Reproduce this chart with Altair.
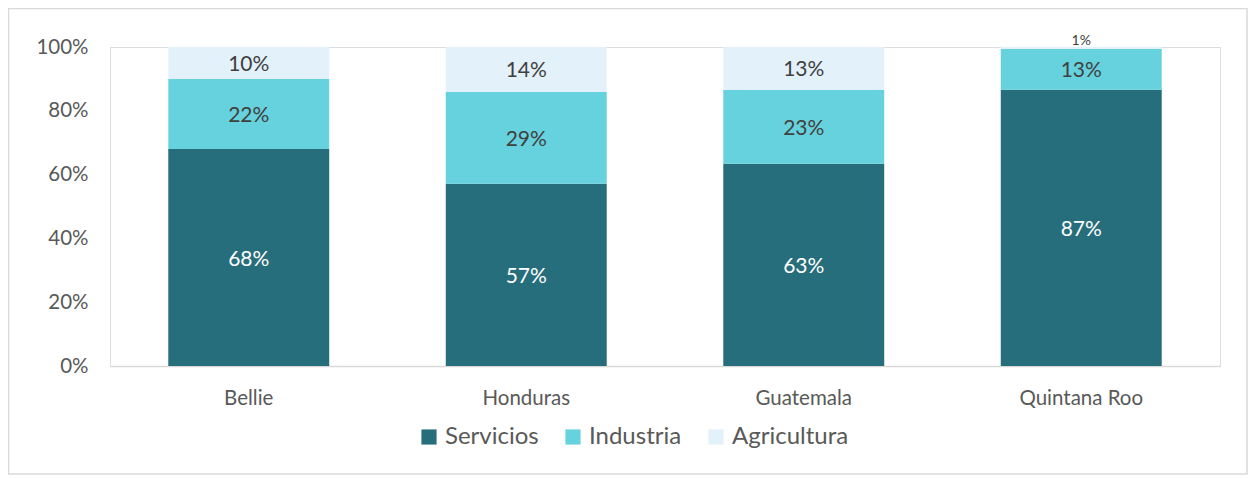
import altair as alt
import pandas as pd

regions = ["Bellie", "Honduras", "Guatemala", "Quintana Roo"]
sectors = ["Servicios", "Industria", "Agricultura"]
servicios = [0.68, 0.571, 0.634, 0.866]
industria = [0.22, 0.288, 0.232, 0.128]
agricultura = [0.10, 0.141, 0.134, 0.006]
colors = ["#266E7B", "#66D2DD", "#E3F1FB"]

rows = []
for i, r in enumerate(regions):
    for k, (s, vals) in enumerate(zip(sectors, [servicios, industria, agricultura])):
        rows.append({"region": r, "sector": s, "value": vals[i], "ord": k})
df = pd.DataFrame(rows)

FONT = "Lato"
W, H = 1110, 319

base = alt.Chart(df).transform_stack(
    stack="value", groupby=["region"], as_=["v0", "v1"], sort=[alt.SortField("ord")]
).transform_calculate(mid="(datum.v0 + datum.v1) / 2")

xenc = alt.X("region:N", sort=regions, title=None,
             scale=alt.Scale(paddingInner=0.42, paddingOuter=0.21),
             axis=alt.Axis(labelAngle=0, labelFontSize=20.5, labelColor="#595959", labelFont=FONT,
                           ticks=False, domainColor="#d9d9d9", domainWidth=1.5, labelPadding=22))
yscale = alt.Scale(domain=[0, 1])

bars = base.mark_bar().encode(
    x=xenc,
    y=alt.Y("v0:Q", scale=yscale, title=None,
            axis=alt.Axis(format=".0%", values=[0, 0.2, 0.4, 0.6, 0.8, 1.0], grid=False,
                          domain=False, ticks=False, labelFontSize=20.5, labelColor="#595959",
                          labelFont=FONT, labelPadding=22)),
    y2="v1:Q",
    color=alt.Color("sector:N", sort=sectors,
                    scale=alt.Scale(domain=sectors, range=colors),
                    legend=alt.Legend(title=None, orient="none", direction="horizontal",
                                      legendX=307, legendY=378, symbolType="square",
                                      symbolSize=230, symbolStrokeWidth=0, labelFontSize=24,
                                      labelColor="#595959", labelFont=FONT, columnPadding=22,
                                      symbolOpacity=1, labelOffset=4)),
)

txt_white = base.transform_filter("datum.sector == 'Servicios'").mark_text(
    color="white", fontSize=21, font=FONT, baseline="middle", dy=2
).encode(x=alt.X("region:N", sort=regions), y=alt.Y("mid:Q", scale=yscale),
         text=alt.Text("value:Q", format=".0%"))

txt_dark = base.transform_filter("datum.sector != 'Servicios' && datum.value >= 0.03").mark_text(
    color="#404040", fontSize=21, font=FONT, baseline="middle", dy=2
).encode(x=alt.X("region:N", sort=regions), y=alt.Y("mid:Q", scale=yscale),
         text=alt.Text("value:Q", format=".0%"))

txt_small = base.transform_filter("datum.value < 0.03").mark_text(
    color="#404040", fontSize=14, font=FONT, baseline="bottom", dy=1
).encode(x=alt.X("region:N", sort=regions), y=alt.Y("v1:Q", scale=yscale),
         text=alt.Text("value:Q", format=".0%"))

frame = alt.Chart(pd.DataFrame({"a": [0]})).mark_rect(
    fill=None, stroke="#d9d9d9", strokeWidth=1.5
).encode(x=alt.value(-101.5), x2=alt.value(1137), y=alt.value(-38.5), y2=alt.value(427))

chart = alt.layer(frame, bars, txt_white, txt_dark, txt_small).properties(
    width=W, height=H,
    autosize=alt.AutoSizeParams(type="none"),
    padding={"left": 102, "top": 39, "right": 28, "bottom": 110},
).configure_view(strokeWidth=0).configure(font=FONT)

chart.save("out.html", embed_options={"renderer": "svg", "actions": False})
